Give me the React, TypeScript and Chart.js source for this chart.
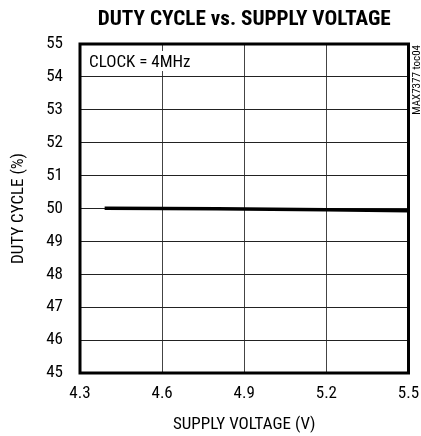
import React, { useEffect, useRef } from "react";
import { Chart, registerables } from "chart.js";

Chart.register(...registerables);

const titleText = "DUTY CYCLE vs. SUPPLY VOLTAGE";
const xTitle = "SUPPLY VOLTAGE (V)";
const yTitle = "DUTY CYCLE (%)";
const noteText = "CLOCK = 4MHz";
const sideText = "MAX7377 toc04";
const supplyVoltage = [4.39, 4.6, 4.8, 5.0, 5.2, 5.35, 5.5];
const dutyCycle = [50.01, 50.0, 49.99, 49.98, 49.96, 49.95, 49.93];
const xTicks = [4.3, 4.6, 4.9, 5.2, 5.5];
const yTicks = [45, 46, 47, 48, 49, 50, 51, 52, 53, 54, 55];

const FONT = "'Roboto Condensed', 'DejaVu Sans Condensed', sans-serif";

export default function App() {
  const ref = useRef<HTMLCanvasElement | null>(null);
  useEffect(() => {
    if (!ref.current) return;
    const decor = {
      id: "decor",
      beforeDatasetsDraw(chart: any) {
        const { ctx, chartArea } = chart;
        const { left } = chartArea;
        ctx.save();
        ctx.font = `17px ${FONT}`;
        const w = ctx.measureText(noteText).width;
        ctx.fillStyle = "#fff";
        ctx.fillRect(left + 8, chartArea.top + 7, w + 2, 20);
        ctx.fillStyle = "#000";
        ctx.textAlign = "left";
        ctx.textBaseline = "alphabetic";
        ctx.fillText(noteText, left + 9, chartArea.top + 23);
        ctx.restore();
      },
      afterDraw(chart: any) {
        const { ctx, chartArea } = chart;
        const { left, right, top, bottom } = chartArea;
        ctx.save();
        ctx.strokeStyle = "#000";
        ctx.lineWidth = 3;
        ctx.strokeRect(left, top, right - left, bottom - top);
        ctx.fillStyle = "#000";
        // title
        ctx.font = `bold 21px ${FONT}`;
        ctx.textAlign = "center";
        ctx.textBaseline = "alphabetic";
        const tw = ctx.measureText(titleText).width;
        const sx = 293 / tw;
        ctx.save();
        ctx.translate((left + right) / 2, 25);
        ctx.scale(sx, 1);
        ctx.fillText(titleText, 0, 0);
        ctx.restore();
        // x title
        ctx.font = `17px ${FONT}`;
        ctx.textAlign = "center";
        ctx.fillText(xTitle, (left + right) / 2, 429);
        // y title
        ctx.save();
        ctx.translate(23, (top + bottom) / 2);
        ctx.rotate(-Math.PI / 2);
        ctx.textAlign = "center";
        ctx.fillText(yTitle, 0, 0);
        ctx.restore();
        // side text
        ctx.save();
        ctx.font = `11px ${FONT}`;
        ctx.translate(right + 8.5, top + 1);
        ctx.rotate(-Math.PI / 2);
        ctx.textAlign = "right";
        ctx.textBaseline = "middle";
        ctx.fillText(sideText, 0, 0);
        ctx.restore();
        ctx.restore();
      },
    };
    const chart = new Chart(ref.current, {
      type: "line",
      data: {
        datasets: [
          {
            data: supplyVoltage.map((v, i) => ({ x: v, y: dutyCycle[i] })),
            borderColor: "#000",
            borderWidth: 3.5,
            pointRadius: 0,
            tension: 0,
          },
        ],
      },
      options: {
        animation: false,
        responsive: false,
        layout: { padding: { top: 44, right: 12.5, left: 0, bottom: 0 } },
        plugins: { legend: { display: false }, tooltip: { enabled: false }, title: { display: false } },
        scales: {
          x: {
            type: "linear",
            min: 4.3,
            max: 5.5,
            afterBuildTicks: (s: any) => {
              s.ticks = xTicks.map((v) => ({ value: v }));
            },
            afterFit: (s: any) => {
              s.height = 63;
              s.paddingLeft = 0;
              s.paddingRight = 0;
            },
            ticks: {
              color: "#000",
              font: { family: FONT, size: 17 },
              padding: 11,
              maxRotation: 0,
              autoSkip: false,
              callback: (v: any) => Number(v).toFixed(1),
            },
            grid: { color: "#444", lineWidth: 1, drawTicks: false },
            border: { display: false },
          },
          y: {
            min: 45,
            max: 55,
            afterBuildTicks: (s: any) => {
              s.ticks = yTicks.map((v) => ({ value: v }));
            },
            afterFit: (s: any) => {
              s.width = 80;
              s.paddingTop = 0;
              s.paddingBottom = 0;
            },
            ticks: {
              color: "#000",
              font: { family: FONT, size: 17 },
              padding: 17,
              autoSkip: false,
            },
            grid: { color: "#222", lineWidth: 1, drawTicks: false },
            border: { display: false },
          },
        },
      },
      plugins: [decor],
    } as any);
    return () => chart.destroy();
  }, []);
  return (
    <div style={{ position: "absolute", left: 0, top: 0, width: 421, height: 436, background: "#fff" }}>
      <canvas ref={ref} width={421} height={436} style={{ width: 421, height: 436 }} />
    </div>
  );
}
